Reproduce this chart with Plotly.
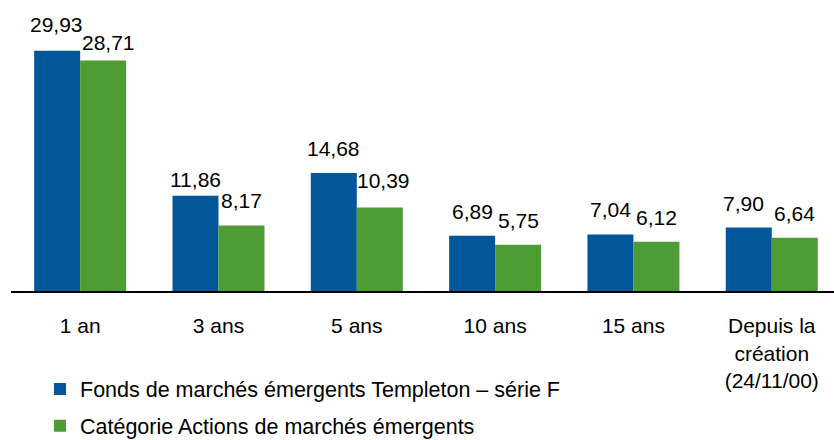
import plotly.graph_objects as go

categories = ["1 an", "3 ans", "5 ans", "10 ans", "15 ans", "Depuis la<br>création<br>(24/11/00)"]
fund = [29.93, 11.86, 14.68, 6.89, 7.04, 7.90]
category_avg = [28.71, 8.17, 10.39, 5.75, 6.12, 6.64]
series_names = ["Fonds de marchés émergents Templeton – série F",
                "Catégorie Actions de marchés émergents"]
colors = ["#02569a", "#4e9d34"]

FONT = "Liberation Sans Narrow, Arial Narrow, Liberation Sans, Arial, sans-serif"

# small pixel nudges of individual data labels (styling only)
label_nudge = {(0, 0): (-1, 2), (1, 0): (5, -7), (0, 1): (0, -8),
               (1, 2): (4, 3), (0, 5): (-5, 0)}

def fr(v):
    return f"{v:.2f}".replace(".", ",")

fig = go.Figure()
for i, (vals, name) in enumerate([(fund, series_names[0]), (category_avg, series_names[1])]):
    fig.add_trace(go.Bar(
        x=list(range(len(categories))), y=vals, name=name,
        marker=dict(color=colors[i], line=dict(width=0)),
        legendgroup=f"g{i}", hoverinfo="skip",
    ))
    for j, v in enumerate(vals):
        dx, dy = label_nudge.get((i, j), (0, 0))
        fig.add_annotation(x=j, y=v, text=fr(v), showarrow=False,
                           xshift=(-23 if i == 0 else 23) + dx, yshift=11 + dy,
                           yanchor="bottom", xanchor="center",
                           font=dict(family=FONT, size=21, color="black"))

fig.update_layout(
    width=834, height=440,
    margin=dict(l=11, r=0, t=0, b=149, autoexpand=False),
    paper_bgcolor="white", plot_bgcolor="white",
    barmode="group", bargap=0.335, bargroupgap=0,
    font=dict(family=FONT, size=21, color="black"),
    showlegend=True,
    legend=dict(x=(40 - 11) / 823, xref="paper", y=-0.266, yref="paper",
                xanchor="left", yanchor="top",
                font=dict(family=FONT, size=21.5, color="black"),
                traceorder="grouped", tracegroupgap=6, itemwidth=30,
                bgcolor="rgba(0,0,0,0)"),
    xaxis=dict(tickmode="array", tickvals=list(range(len(categories))), ticktext=categories,
               range=[-0.5, 5.45], showline=True, linecolor="black", linewidth=2,
               showgrid=False, zeroline=False, ticks="", ticklabelstandoff=15,
               automargin=False,
               tickfont=dict(family=FONT, size=21, color="black")),
    yaxis=dict(range=[0, 36.24], visible=False, showgrid=False, zeroline=False,
               automargin=False),
)
fig.write_html("out.html", config={"displayModeBar": False},
               post_script="document.body.style.margin='0';document.body.style.overflow='hidden';")
